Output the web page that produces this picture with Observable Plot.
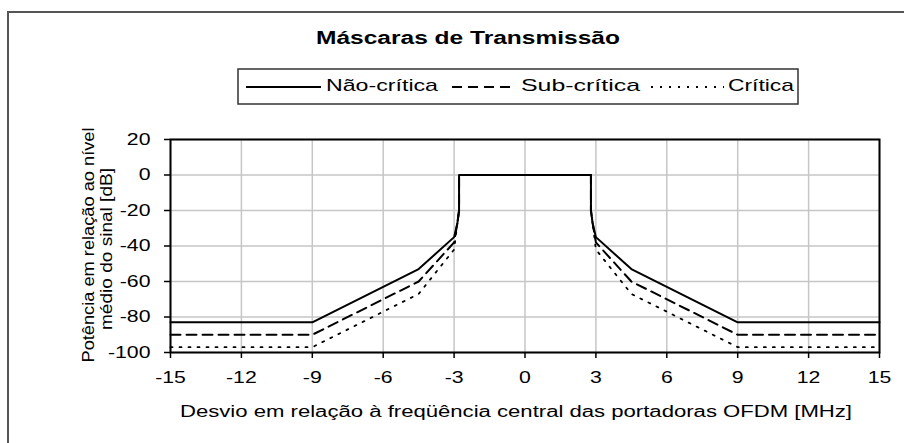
<!DOCTYPE html>
<html><head><meta charset="utf-8">
<script src="https://cdn.jsdelivr.net/npm/d3@7"></script>
<script src="https://cdn.jsdelivr.net/npm/@observablehq/plot@0.6"></script>
<style>
body{margin:0;background:#fff;}
#wrap{position:relative;width:904px;height:443px;overflow:hidden;font-family:"Liberation Sans",Arial,sans-serif;background:#fff;}
#chart{position:absolute;left:0;top:120px;}
#over{position:absolute;left:0;top:0;pointer-events:none;}
</style></head><body>
<div id="wrap"><div id="chart"></div><svg id="over" width="904" height="443"></svg></div>
<script>
// ---- data ----
const freqs      = [-15, -9, -4.5, -3, -2.86, -2.79, -2.79, 2.79, 2.79, 2.86, 3, 4.5, 9, 15];
const naoCritica = [-83, -83, -53, -35, -27, -20, 0, 0, -20, -27, -35, -53, -83, -83];
const subCritica = [-90, -90, -60, -38, -27, -20, 0, 0, -20, -27, -38, -60, -90, -90];
const critica    = [-97, -97, -67, -42, -27, -20, 0, 0, -20, -27, -42, -67, -97, -97];
const seriesNames = ["Não-crítica", "Sub-crítica", "Crítica"];
const xTicks = [-15, -12, -9, -6, -3, 0, 3, 6, 9, 12, 15];
const yTicks = [-100, -80, -60, -40, -20, 0, 20];
const title = "Máscaras de Transmissão";
const xTitle = "Desvio em relação à freqüência central das portadoras OFDM [MHz]";
const yTitle = ["Potência em relação ao nível", "médio do sinal [dB]"];

const toRows = (vals) => freqs.map((f, i) => ({f, v: vals[i]}));

const plot = Plot.plot({
  width: 904, height: 310,
  marginLeft: 170, marginRight: 25, marginTop: 19, marginBottom: 78,
  x: {domain: [-15, 15]},
  y: {domain: [-100, 20]},
  style: {fontFamily: "'Liberation Sans', Arial, sans-serif", fontSize: "17px", color: "black", background: "white"},
  marks: [
    Plot.gridX(xTicks, {stroke: "#c6c6c6", strokeOpacity: 1, strokeWidth: 1.5}),
    Plot.gridY(yTicks, {stroke: "#c6c6c6", strokeOpacity: 1, strokeWidth: 1.5}),
    Plot.axisX(xTicks, {tickSize: 6, tickPadding: 12, label: null, strokeWidth: 1.5, tickFormat: d => String(d), fontSize: 17}),
    Plot.axisY(yTicks, {tickSize: 6, tickPadding: 14, label: null, strokeWidth: 1.5, tickFormat: d => String(d), fontSize: 17}),
    Plot.line(toRows(critica), {x: "f", y: "v", stroke: "black", strokeWidth: 1.8, strokeDasharray: "2,7"}),
    Plot.line(toRows(subCritica), {x: "f", y: "v", stroke: "black", strokeWidth: 2, strokeDasharray: "10,6"}),
    Plot.line(toRows(naoCritica), {x: "f", y: "v", stroke: "black", strokeWidth: 2}),
    Plot.frame({stroke: "black", strokeWidth: 2})
  ]
});
document.getElementById("chart").appendChild(plot);

// stretch tick labels horizontally like the reference
plot.querySelectorAll("text").forEach(t => {
  const len = t.getComputedTextLength();
  if (len > 0) { t.setAttribute("textLength", len * 1.25); t.setAttribute("lengthAdjust", "spacingAndGlyphs"); }
});

// ---- overlay: frame, title, legend, axis titles ----
const ov = d3.select("#over");
ov.append("path").attr("d", "M8,443V12H904").attr("fill", "none").attr("stroke", "#555").attr("stroke-width", 2);
ov.append("text").attr("x", 468).attr("y", 44).attr("text-anchor", "middle")
  .attr("font-size", 18).attr("font-weight", "bold").attr("textLength", 304).attr("lengthAdjust", "spacingAndGlyphs").text(title);

ov.append("rect").attr("x", 238).attr("y", 69).attr("width", 560).attr("height", 35)
  .attr("fill", "white").attr("stroke", "#333").attr("stroke-width", 1.5);
const legendItems = [
  {name: seriesNames[0], x1: 246, x2: 321, tx: 326, tl: 112, dash: null, w: 2},
  {name: seriesNames[1], x1: 452, x2: 516, tx: 521, tl: 119, dash: "10,6", w: 2},
  {name: seriesNames[2], x1: 651, x2: 724, tx: 728, tl: 66, dash: "2,7", w: 1.8}
];
legendItems.forEach(it => {
  ov.append("line").attr("x1", it.x1).attr("x2", it.x2).attr("y1", 87).attr("y2", 87)
    .attr("stroke", "black").attr("stroke-width", it.w).attr("stroke-dasharray", it.dash);
  ov.append("text").attr("x", it.tx).attr("y", 91).attr("font-size", 17)
    .attr("textLength", it.tl).attr("lengthAdjust", "spacingAndGlyphs").text(it.name);
});

ov.append("text").attr("x", 180).attr("y", 417).attr("font-size", 16)
  .attr("textLength", 672).attr("lengthAdjust", "spacingAndGlyphs").text(xTitle);

ov.append("text").attr("transform", "translate(94,245) rotate(-90)").attr("text-anchor", "middle")
  .attr("font-size", 16).attr("textLength", 235).attr("lengthAdjust", "spacingAndGlyphs").text(yTitle[0]);
ov.append("text").attr("transform", "translate(112,249) rotate(-90)").attr("text-anchor", "middle")
  .attr("font-size", 16).attr("textLength", 162).attr("lengthAdjust", "spacingAndGlyphs").text(yTitle[1]);
</script>
</body></html>
